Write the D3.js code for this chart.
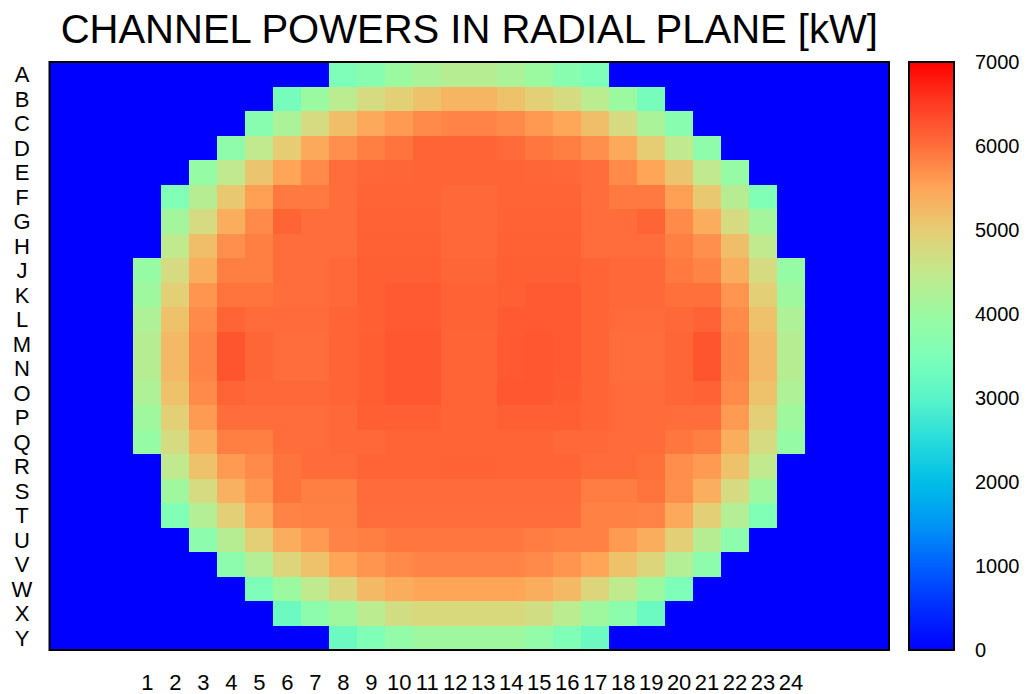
<!DOCTYPE html>
<html>
<head>
<meta charset="utf-8">
<script src="https://cdn.jsdelivr.net/npm/d3@7"></script>
<style>
  html, body { margin: 0; padding: 0; background: #fff; }
  svg { display: block; font-family: "Liberation Sans", Arial, Helvetica, sans-serif; }
</style>
</head>
<body>
<svg id="chart" width="1033" height="694"></svg>
<script>
// Fuel-channel rows (letter I is skipped) and channel columns
const rowLabels = ["A","B","C","D","E","F","G","H","J","K","L","M","N","O","P","Q","R","S","T","U","V","W","X","Y"];
const colLabels = [1,2,3,4,5,6,7,8,9,10,11,12,13,14,15,16,17,18,19,20,21,22,23,24];

// Channel power [kW]; one row per letter, 24 columns, 0 = no channel
const powerRows = [
  [0,0,0,0,0,0,0,3500,3700,4000,4200,4350,4350,4200,4000,3700,3500,0,0,0,0,0,0,0],
  [0,0,0,0,0,3400,4000,4400,4750,4950,5150,5300,5300,5150,4950,4750,4400,4000,3400,0,0,0,0,0],
  [0,0,0,0,3700,4200,4750,5200,5450,5600,5750,5800,5800,5750,5620,5480,5200,4750,4200,3700,0,0,0,0],
  [0,0,0,3800,4450,5000,5450,5700,5850,5950,6100,6100,6100,6030,5930,5850,5700,5450,5000,4450,3800,0,0,0],
  [0,0,3900,4450,5100,5500,5750,6000,6070,6080,6100,6100,6100,6100,6080,6070,6000,5750,5500,5100,4450,3900,0,0],
  [0,3550,4350,5050,5550,5900,5900,6000,6100,6100,6100,6050,6050,6100,6100,6100,6000,5900,5900,5550,5050,4350,3550,0],
  [0,4100,4750,5400,5750,6100,6000,6000,6120,6120,6120,6050,6050,6120,6120,6120,6000,6000,6100,5750,5400,4750,4100,0],
  [0,4450,5200,5700,5850,6000,6000,6000,6130,6130,6130,6050,6050,6130,6130,6130,6000,6000,6000,5850,5700,5200,4450,0],
  [3900,4750,5400,5850,5850,6000,6000,6050,6150,6150,6150,6080,6080,6150,6150,6150,6100,6050,6050,5900,5800,5400,4750,3900],
  [4050,4950,5650,5950,5950,6000,6000,6050,6150,6200,6200,6120,6120,6150,6200,6200,6100,6050,6050,5980,5980,5650,4950,4050],
  [4250,5150,5750,6100,6030,6030,6030,6100,6150,6200,6200,6120,6120,6200,6200,6200,6100,6030,6030,6050,6120,5750,5150,4250],
  [4350,5250,5800,6250,6080,6000,6000,6100,6170,6220,6220,6100,6100,6200,6220,6200,6100,6000,6000,6080,6250,5800,5250,4350],
  [4350,5250,5800,6250,6080,6000,6000,6100,6170,6220,6220,6100,6100,6200,6220,6200,6100,6000,6000,6080,6250,5800,5250,4350],
  [4250,5150,5750,6100,6050,6050,6050,6100,6170,6220,6220,6100,6100,6220,6220,6180,6100,6030,6030,6080,6120,5750,5150,4250],
  [4050,4950,5600,6000,6000,6000,6000,6050,6150,6150,6150,6100,6100,6150,6150,6150,6100,6030,6030,6000,6000,5600,4950,4050],
  [3900,4750,5400,5850,5850,6000,6000,6050,6050,6100,6100,6100,6100,6100,6100,6050,6050,6030,6030,5930,5850,5400,4750,3900],
  [0,4450,5150,5600,5750,5950,6030,6030,6100,6100,6100,6120,6120,6100,6100,6100,6020,6020,5980,5720,5600,5150,4450,0],
  [0,4050,4750,5350,5650,5950,5850,5850,6020,6020,6020,6020,6020,6020,6020,6020,5870,5870,5950,5700,5380,4750,4050,0],
  [0,3550,4300,4950,5450,5800,5820,5820,6000,6000,6000,6000,6000,6000,6000,6000,5820,5820,5800,5450,4950,4300,3550,0],
  [0,0,3750,4350,4950,5400,5600,5800,5850,5920,5920,5920,5920,5920,5870,5820,5820,5600,5400,4950,4350,3750,0,0],
  [0,0,0,3750,4300,4850,5150,5500,5650,5750,5800,5800,5800,5800,5750,5650,5500,5150,4850,4300,3750,0,0,0],
  [0,0,0,0,3500,4000,4450,4850,5250,5400,5500,5500,5500,5500,5400,5250,4850,4450,4000,3500,0,0,0,0],
  [0,0,0,0,0,3250,3750,4050,4400,4700,4800,4800,4800,4800,4700,4400,4050,3750,3250,0,0,0,0,0],
  [0,0,0,0,0,0,0,3250,3550,3850,4050,4050,4050,4050,3850,3550,3250,0,0,0,0,0,0,0]
];

// Colour bar ticks and palette
const cbTicks = [0,1000,2000,3000,4000,5000,6000,7000];
const paletteStops  = [0,500,1000,1500,2000,2500,3000,3500,4000,4500,5000,5500,6000,6500,7000];
const paletteColors = ["#0000ff","#002dff","#005fff","#0096f5","#00bee6","#28dcdc","#5af5c8",
                       "#7dffb9","#9bfaa0","#c3e88c","#e6cd73","#ffa558","#ff6e3a","#ff3c23","#ff0000"];

const svg = d3.select("#chart");

const plot = { left: 49.5, right: 889, top: 62, bottom: 650 };
const x = d3.scaleLinear().domain([-2.5, 27.5]).range([plot.left, plot.right]);
const y = d3.scaleBand().domain(rowLabels).range([plot.top, plot.bottom]);
const colour = d3.scaleLinear().domain(paletteStops).range(paletteColors)
  .interpolate(d3.interpolateRgb).clamp(true);

// Title
svg.append("text")
  .attr("x", (plot.left + plot.right) / 2)
  .attr("y", 43)
  .attr("text-anchor", "middle")
  .attr("font-size", 40)
  .attr("fill", "#000")
  .text("CHANNEL POWERS IN RADIAL PLANE [kW]");

// Plot background at zero power
svg.append("rect")
  .attr("x", plot.left).attr("y", plot.top)
  .attr("width", plot.right - plot.left).attr("height", plot.bottom - plot.top)
  .attr("fill", colour(0));

// Cells
const cells = [];
powerRows.forEach((row, ri) => row.forEach((v, ci) => cells.push({ row: rowLabels[ri], col: colLabels[ci], v })));

svg.append("g")
  .attr("shape-rendering", "crispEdges")
  .selectAll("rect")
  .data(cells)
  .join("rect")
  .attr("x", d => x(d.col - 0.5))
  .attr("y", d => y(d.row))
  .attr("width", d => x(d.col + 0.5) - x(d.col - 0.5))
  .attr("height", y.bandwidth())
  .attr("fill", d => colour(d.v));

// Frame
svg.append("rect")
  .attr("x", plot.left).attr("y", plot.top)
  .attr("width", plot.right - plot.left).attr("height", plot.bottom - plot.top)
  .attr("fill", "none").attr("stroke", "#000").attr("stroke-width", 2);

// Row letters
svg.append("g")
  .selectAll("text")
  .data(rowLabels)
  .join("text")
  .attr("x", 22)
  .attr("y", d => y(d) + y.bandwidth() / 2)
  .attr("dy", "0.36em")
  .attr("text-anchor", "middle")
  .attr("font-size", 22)
  .text(d => d);

// Column numbers
svg.append("g")
  .selectAll("text")
  .data(colLabels)
  .join("text")
  .attr("x", d => x(d))
  .attr("y", 690)
  .attr("text-anchor", "middle")
  .attr("font-size", 22)
  .text(d => d);

// Colour bar
const cb = { left: 909, right: 954 };
const yc = d3.scaleLinear().domain([0, 7000]).range([plot.bottom, plot.top]);

const grad = svg.append("defs").append("linearGradient")
  .attr("id", "cbGrad")
  .attr("x1", 0).attr("y1", 1).attr("x2", 0).attr("y2", 0);
grad.selectAll("stop")
  .data(paletteStops)
  .join("stop")
  .attr("offset", d => d / 7000)
  .attr("stop-color", d => colour(d));

svg.append("rect")
  .attr("x", cb.left).attr("y", yc(7000))
  .attr("width", cb.right - cb.left).attr("height", yc(0) - yc(7000))
  .attr("fill", "url(#cbGrad)")
  .attr("stroke", "#000").attr("stroke-width", 2);

svg.append("g")
  .selectAll("text")
  .data(cbTicks)
  .join("text")
  .attr("x", 975)
  .attr("y", d => yc(d))
  .attr("dy", "0.36em")
  .attr("font-size", 20)
  .text(d => d);
</script>
</body>
</html>
